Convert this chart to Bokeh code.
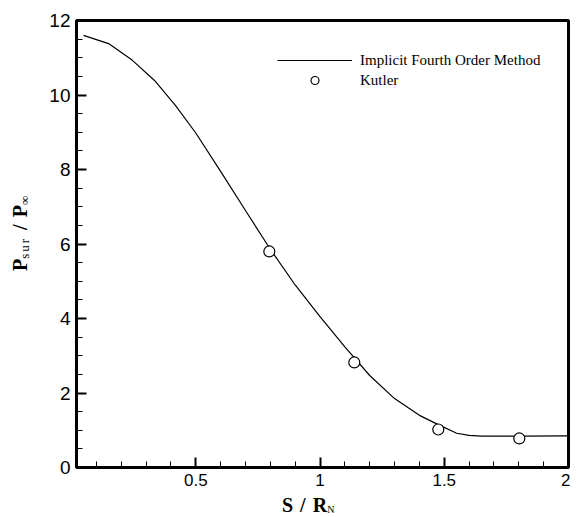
from bokeh.plotting import figure
from bokeh.models import Range1d, FixedTicker, Legend, LegendItem, Div
from bokeh.layouts import row, column
from bokeh.embed import file_html
from bokeh.resources import INLINE

# ---- data ----
curve_x = [0.048, 0.149, 0.245, 0.334, 0.418, 0.50, 0.60, 0.70, 0.80, 0.90,
           1.00, 1.10, 1.20, 1.30, 1.40, 1.476, 1.55, 1.60, 1.65, 1.80, 2.00]
curve_y = [11.60, 11.38, 10.93, 10.39, 9.72, 8.98, 7.95, 6.90, 5.86, 4.90,
           4.05, 3.24, 2.47, 1.85, 1.40, 1.15, 0.92, 0.86, 0.84, 0.84, 0.85]

kutler_x = [0.796, 1.138, 1.476, 1.802]
kutler_y = [5.80, 2.82, 1.02, 0.78]

x_major = [0.5, 1.0, 1.5, 2.0]
x_minor = [0.1, 0.2, 0.3, 0.4, 0.6, 0.7, 0.8, 0.9, 1.1, 1.2, 1.3, 1.4, 1.6, 1.7, 1.8, 1.9]
y_major = [0, 2, 4, 6, 8, 10, 12]
y_minor = [0.5, 1, 1.5, 2.5, 3, 3.5, 4.5, 5, 5.5, 6.5, 7, 7.5, 8.5, 9, 9.5, 10.5, 11, 11.5]
x_tick_labels = {0.5: "0.5", 1.0: "1", 1.5: "1.5", 2.0: "2"}

legend_line = "Implicit Fourth Order Method"
legend_pts = "Kutler"

LEFT_W = 40      # width of the y-title strip
P_H = 495        # figure height
X_H = 20         # height of the x-title strip

p = figure(frame_width=492, frame_height=447,
           x_range=Range1d(0.02, 2.0), y_range=Range1d(0, 12),
           output_backend="svg", toolbar_location=None,
           min_border_left=76 - LEFT_W, min_border_top=20, min_border_right=2,
           min_border_bottom=P_H - 20 - 447)
p.background_fill_color = "white"
p.border_fill_color = "white"
p.grid.visible = False
p.outline_line_color = "black"
p.outline_line_width = 3
p.outline_line_alpha = 1.0

for ax, maj, mnr, fs in ((p.xaxis[0], x_major, x_minor, "17px"),
                         (p.yaxis[0], y_major, y_minor, "19px")):
    ax.ticker = FixedTicker(ticks=maj, minor_ticks=mnr)
    ax.axis_line_width = 3
    ax.axis_line_color = "black"
    ax.major_tick_in = 10
    ax.major_tick_out = 0
    ax.minor_tick_in = 6
    ax.minor_tick_out = 0
    ax.major_tick_line_width = 2
    ax.minor_tick_line_width = 1
    ax.major_tick_line_color = "black"
    ax.minor_tick_line_color = "black"
    ax.major_label_text_font = "Liberation Sans"
    ax.major_label_text_font_size = fs
    ax.major_label_text_color = "black"
    ax.major_label_standoff = 6

p.xaxis[0].major_label_overrides = x_tick_labels

line_r = p.line(curve_x, curve_y, line_color="black", line_width=1.2)
pts_r = p.scatter(kutler_x, kutler_y, marker="circle", size=11,
                  fill_color="white", line_color="black", line_width=1.2)

legend = Legend(items=[LegendItem(label=legend_line, renderers=[line_r]),
                       LegendItem(label=legend_pts, renderers=[pts_r])],
                location=(201, 377), padding=0, margin=0, spacing=0,
                glyph_width=75, glyph_height=20, label_height=20,
                label_standoff=8, border_line_color=None,
                background_fill_alpha=0,
                label_text_font="Liberation Serif",
                label_text_font_size="15px", label_text_color="black")
p.add_layout(legend)

FONT = "font-family:'Liberation Serif',serif;color:black;white-space:nowrap;line-height:20px;"

# y title: P_sur / P_inf, rotated, reading bottom to top
ytitle_html = (
    f'<div style="position:relative;width:{LEFT_W}px;height:{P_H}px;overflow:hidden;">'
    f'<div style="position:absolute;left:10px;top:271px;transform-origin:left top;'
    f'transform:rotate(-90deg);{FONT}font-size:20px;font-weight:bold;word-spacing:2px;">'
    'P<span style="font-size:13px;font-weight:normal;letter-spacing:2px;'
    'vertical-align:-2px;">sur</span> / P'
    '<span style="font-size:13px;font-weight:normal;vertical-align:-2px;">\u221e</span>'
    '</div></div>'
)
ydiv = Div(text=ytitle_html, width=LEFT_W, height=P_H, margin=0)

# x title: S / R_N
xtitle_html = (
    f'<div style="position:relative;width:{570 - LEFT_W}px;height:{X_H}px;overflow:hidden;">'
    f'<div style="position:absolute;left:{282 - LEFT_W}px;top:0px;{FONT}'
    'font-size:20px;font-weight:bold;word-spacing:2px;">'
    'S / R<span style="font-size:10px;font-weight:normal;vertical-align:-1px;">N</span>'
    '</div></div>'
)
xdiv = Div(text=xtitle_html, width=570 - LEFT_W, height=X_H, margin=0)

layout = row(ydiv, column(p, xdiv, spacing=0), spacing=0)

open("out.html", "w").write(file_html(layout, INLINE))
